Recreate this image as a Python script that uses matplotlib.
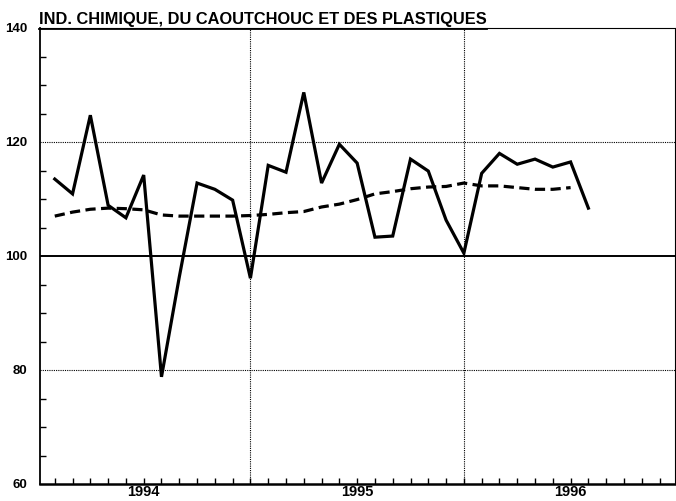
import matplotlib
matplotlib.use("Agg")
import matplotlib.pyplot as plt
from matplotlib.lines import Line2D
import numpy as np

title = "IND. CHIMIQUE, DU CAOUTCHOUC ET DES PLASTIQUES"
year_labels = ["1994", "1995", "1996"]
year_label_pos = [6, 18, 30]
year_bounds = [12, 24]

# monthly index: Jan 1994 = 1
solid = [113.5, 110.9, 124.7, 108.9, 106.7, 114.2, 78.8, 96.3, 112.8, 111.7, 109.8, 96.1,
         115.9, 114.7, 128.7, 112.8, 119.6, 116.3, 103.3, 103.5, 117.0, 114.9, 106.3, 100.5,
         114.5, 118.0, 116.1, 117.0, 115.6, 116.5, 108.4]
trend = [107.0, 107.7, 108.2, 108.4, 108.3, 108.1, 107.2, 107.0, 107.0, 107.0, 107.0, 107.1,
         107.3, 107.6, 107.8, 108.6, 109.1, 109.9, 110.9, 111.3, 111.8, 112.1, 112.2, 112.8,
         112.3, 112.3, 112.0, 111.7, 111.7, 112.0]
yticks = [60, 80, 100, 120, 140]

plt.rcParams['font.family'] = ['Liberation Sans', 'DejaVu Sans']

fig = plt.figure(figsize=(6.76, 5.01), dpi=100)
ax = fig.add_axes([40/676, 1-484/501, 636/676 - 0.002, (484-28)/501])

xs = np.arange(1, len(solid) + 1)
xt = np.arange(1, len(trend) + 1)

# grid
for yv in [80, 120]:
    ax.axhline(yv, color='black', lw=0.8, ls=(0, (1, 1)), zorder=1)
ax.axhline(100, color='black', lw=1.4, zorder=1)
for xb in year_bounds:
    ax.axvline(xb, color='black', lw=0.8, ls=(0, (1, 1)), zorder=1)

ax.plot(xs, solid, color='black', lw=2.3, solid_joinstyle='miter', zorder=3)
ax.plot(xt, trend, color='black', lw=2.3, ls=(0, (3.2, 1.7)), zorder=3)

ax.set_xlim(0.17, 35.85)
ax.set_ylim(60, 140)

for s in ['top', 'right']:
    ax.spines[s].set_linestyle((0, (1, 1)))
    ax.spines[s].set_linewidth(0.8)
ax.spines['left'].set_linewidth(1.3)
ax.spines['bottom'].set_linewidth(1.8)

ax.xaxis.remove_overlapping_locs = False
ax.set_xticks(year_label_pos)
ax.set_xticklabels(year_labels, fontsize=10.5, fontweight='bold')
ax.set_xticks(np.arange(1, 36), minor=True)
ax.tick_params(axis='x', which='major', length=0, pad=0.5)
ax.tick_params(axis='x', which='minor', direction='in', length=4, width=1)

ax.set_yticks(yticks)
ax.set_yticklabels([str(v) for v in yticks], fontsize=9.5, fontweight='bold')
ax.set_yticks(np.arange(60, 141, 5), minor=True)
ax.tick_params(axis='y', which='major', length=0, pad=9)
ax.tick_params(axis='y', which='minor', direction='in', length=4, width=1)

t = fig.text(39/676, 1-24/501, title, fontsize=11.8, fontweight='bold', ha='left', va='baseline')
fig.canvas.draw()
bb = t.get_window_extent()
uy = (bb.y0 - 1.5) / fig.bbox.height
fig.add_artist(Line2D([bb.x0 / fig.bbox.width, bb.x1 / fig.bbox.width], [uy, uy],
                      transform=fig.transFigure, color='black', lw=1.3))

fig.savefig("out.png", dpi=100)
